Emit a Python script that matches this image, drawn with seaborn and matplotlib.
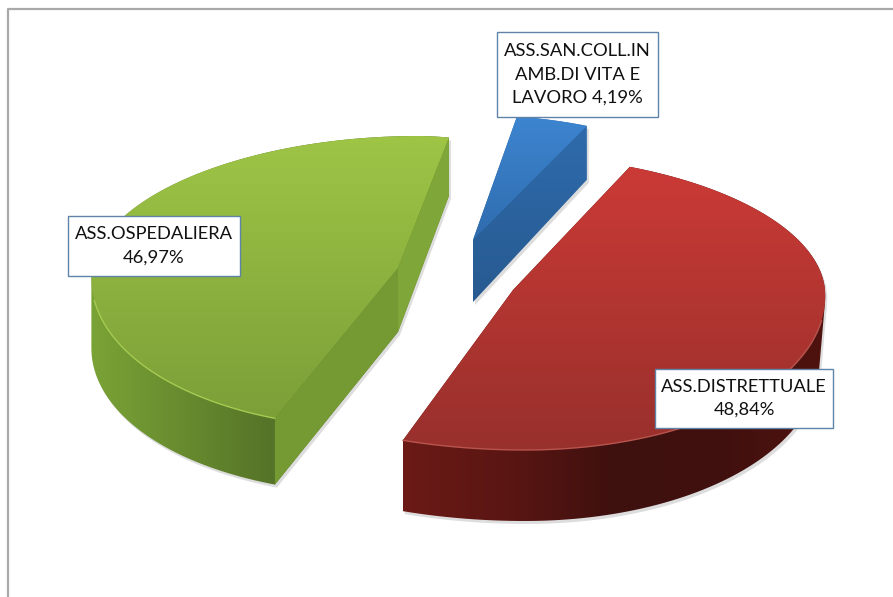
import numpy as np
import seaborn as sns
import matplotlib
matplotlib.use('Agg')
import matplotlib.pyplot as plt
from matplotlib.patches import Polygon, Rectangle

slice_names = ['ASS.DISTRETTUALE\n', 'ASS.SAN.COLL.IN\nAMB.DI VITA E\nLAVORO ', 'ASS.OSPEDALIERA\n']
slice_values = [48.84, 4.19, 46.97]

# pixel geometry of each exploded slice: apex, half widths, shear, top and bottom face
shapes = [
    dict(cx=513, cy=290, al=355, ar=312, k=-12, bt=135, bb=160,
         low_ar=306, low_cy=358, low_bt=110, low_bb=163, low_apex=358),
    dict(cx=473, cy=240, al=278, ar=278, k=0, bt=125, bb=125,
         low_ar=278, low_cy=302, low_bt=134, low_bb=134, low_apex=302),
    dict(cx=398, cy=268, al=306, ar=200, k=19.6, bt=132, bb=160,
         low_ar=200, low_cy=338, low_bt=144, low_bb=156, low_apex=332),
]
top_colors = [['#cb3a36', '#98302c'], ['#3d85d0', '#2f6cae'], ['#9ec546', '#7c9f38']]
side_colors = [['#6b1a16', '#5a1613', '#3e100e', '#40100e', '#50130f'],
               ['#2f6cae', '#275a90'],
               ['#7aa336', '#567428', '#567428']]
side_dirs = ['x', 'y', 'x']
rim_colors = ['#b9544e', None, '#a6cb52']
box_spots = [(655, 369, 178, 59), (497, 32, 161, 85), (68, 216, 172, 60)]
border_color = '#a9a9a9'
box_color = '#5f84a8'

sns.set_style('white')
plt.rcParams['font.family'] = ['Lato', 'DejaVu Sans']

fig = plt.figure(figsize=(8.93, 5.97), dpi=100)
ax = fig.add_axes([0, 0, 1, 1])

# pie works out the angles of the slices, faces are drawn from them
wedges, _ = ax.pie(slice_values, startangle=-110, counterclock=True)
angles = [(w.theta1, w.theta2) for w in wedges]
for w in wedges:
    w.remove()
ax.set_aspect('auto')
ax.set_xlim(0, 893)
ax.set_ylim(597, 0)
ax.axis('off')


def face(s, th1, th2, low=False):
    pre = 'low_' if low else ''
    ar = s[pre + 'ar'] if low else s['ar']
    t = np.radians(np.linspace(th1, th2, 120))
    c, n = np.cos(t), np.sin(t)
    x = s['cx'] + np.where(c > 0, ar, s['al']) * c + s['k'] * n
    y = s[pre + 'cy'] - np.where(n > 0, s[pre + 'bt'], s[pre + 'bb']) * n
    apex_y = s['low_apex'] if low else s['cy']
    return np.vstack([[s['cx'], apex_y], np.column_stack([x, y])])


def hull(pts):
    pts = sorted(map(tuple, pts))

    def half(seq):
        out = []
        for p in seq:
            while len(out) > 1:
                a, b = np.subtract(out[-1], out[-2]), np.subtract(p, out[-1])
                if a[0] * b[1] - a[1] * b[0] > 0:
                    break
                out.pop()
            out.append(p)
        return out[:-1]
    return np.array(half(pts) + half(pts[::-1]))


def paint(pts, colors, direction, z):
    patch = ax.add_patch(Polygon(pts, closed=True, fc='none', ec='none', zorder=z))
    cmap = sns.blend_palette(colors, as_cmap=True)
    grad = np.linspace(0, 1, 256)
    grad = grad[None, :] if direction == 'x' else grad[:, None]
    x0, y0 = pts.min(axis=0)
    x1, y1 = pts.max(axis=0)
    im = ax.imshow(grad, cmap=cmap, extent=[x0, x1, y1, y0], aspect='auto',
                   interpolation='bilinear', zorder=z)
    im.set_clip_path(patch)


for i, s in enumerate(shapes):
    th1, th2 = angles[i]
    top = face(s, th1, th2)
    low = face(s, th1, th2, low=True)
    body = hull(np.vstack([top, low]))
    ax.add_patch(Polygon(body + [2, 3], closed=True, fc='#bdbdbd', ec='none', alpha=0.5, zorder=1))
    paint(body, side_colors[i], side_dirs[i], 2)
    paint(top, top_colors[i], 'y', 4)
    if rim_colors[i]:
        front = top[1:][top[1:, 1] > s['cy'] + 30]
        ax.plot(front[:, 0], front[:, 1], color=rim_colors[i], lw=1, zorder=5)

# the two cut faces of the green slice
g_top = face(shapes[2], *angles[2])
g_low = face(shapes[2], *angles[2], low=True)
ax.add_patch(Polygon([g_top[1], g_low[1], g_low[0], g_top[0]], closed=True, fc='#7fa638', ec='none', zorder=3))
ax.add_patch(Polygon([g_top[0], g_low[0], g_low[-1], g_top[-1]], closed=True, fc='#759a34', ec='none', zorder=3))

# chart frame
ax.plot([8, 8, 893], [597, 9, 9], color=border_color, lw=1.6, solid_capstyle='butt', zorder=1)

for name, val, (bx, by, bw, bh) in zip(slice_names, slice_values, box_spots):
    ax.add_patch(Rectangle((bx, by), bw, bh, fc='white', ec=box_color, lw=1, zorder=6))
    txt = name + f'{val:.2f}'.replace('.', ',') + '%'
    ax.text(bx + bw / 2, by + bh / 2, txt, ha='center', va='center', fontsize=13.2,
            color='#111111', linespacing=1.55, zorder=7)

fig.savefig('out.png', dpi=100)
